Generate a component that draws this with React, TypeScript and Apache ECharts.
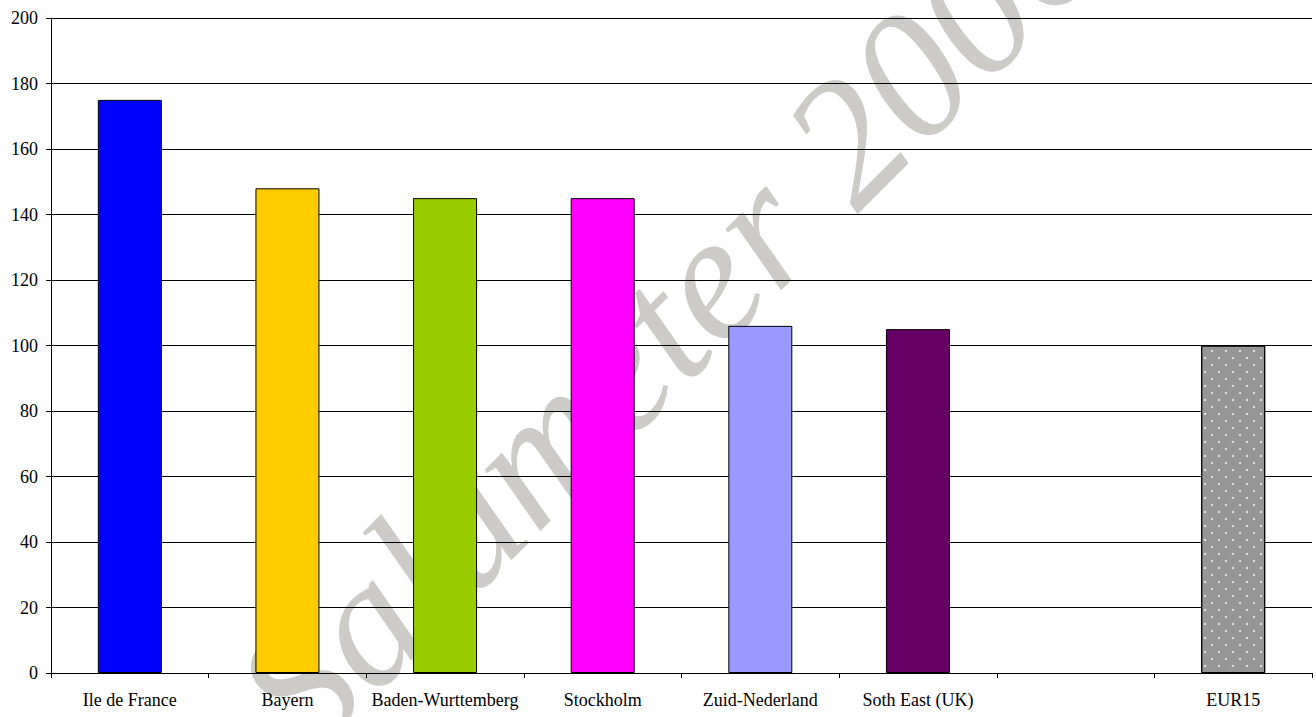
import React, { useEffect, useRef } from "react";
import * as echarts from "echarts";

const categories = [
  "Ile de France",
  "Bayern",
  "Baden-Wurttemberg",
  "Stockholm",
  "Zuid-Nederland",
  "Soth East (UK)",
  "",
  "EUR15",
];
const values: (number | null)[] = [175, 148, 145, 145, 106, 105, null, 100];
const barColors = ["#0000FF", "#FFCC00", "#99CC00", "#FF00FF", "#9999FF", "#660066", "#969696", "#969696"];
const yTicks = [0, 20, 40, 60, 80, 100, 120, 140, 160, 180, 200];
const watermark = "Salumeter 2006";

export default function App() {
  const ref = useRef<HTMLDivElement>(null);
  useEffect(() => {
    if (!ref.current) return;
    const chart = echarts.init(ref.current, null, { renderer: "svg" });
    const font = "'Liberation Serif', 'Times New Roman', serif";
    chart.setOption({
      animation: false,
      backgroundColor: "#ffffff",
      grid: { left: 51, right: 4, top: 18, bottom: 44, containLabel: false },
      graphic: [
        {
          type: "text",
          z: -10,
          x: 668,
          y: 318,
          rotation: Math.PI / 4,
          style: {
            text: watermark,
            font: "italic 180px 'Liberation Serif'",
            fill: "#cdcbc7",
            align: "center",
            verticalAlign: "middle",
          },
        },
      ],
      xAxis: {
        type: "category",
        data: categories,
        boundaryGap: true,
        axisLine: { lineStyle: { color: "#000", width: 1 } },
        axisTick: { show: true, length: 5, lineStyle: { color: "#000" }, alignWithLabel: false },
        axisLabel: { color: "#000", fontFamily: font, fontSize: 18, margin: 18, interval: 0 },
        splitLine: { show: false },
      },
      yAxis: {
        type: "value",
        min: yTicks[0],
        max: yTicks[yTicks.length - 1],
        interval: 20,
        axisLine: { show: true, lineStyle: { color: "#000", width: 1 } },
        axisTick: { show: true, length: 5, lineStyle: { color: "#000" } },
        axisLabel: { color: "#000", fontFamily: font, fontSize: 18, margin: 13 },
        splitLine: { show: true, lineStyle: { color: "#000", width: 1 } },
      },
      series: [
        {
          type: "bar",
          barWidth: 64,
          z: 5,
          data: values.map((v, i) => ({
            value: v,
            itemStyle: {
              color: barColors[i],
              borderColor: "#000",
              borderWidth: 1,
              decal:
                categories[i] === "EUR15"
                  ? {
                      symbol: "circle",
                      symbolSize: 1,
                      color: "rgba(255,255,255,0.85)",
                      dashArrayX: [[2, 12], [0, 7, 2, 5]],
                      dashArrayY: [2, 5],
                      rotation: 0,
                    }
                  : undefined,
            },
          })),
        },
      ],
    });
    return () => chart.dispose();
  }, []);
  return (
    <div
      ref={ref}
      style={{ position: "fixed", left: 0, top: 0, width: 1316, height: 717 }}
    />
  );
}
